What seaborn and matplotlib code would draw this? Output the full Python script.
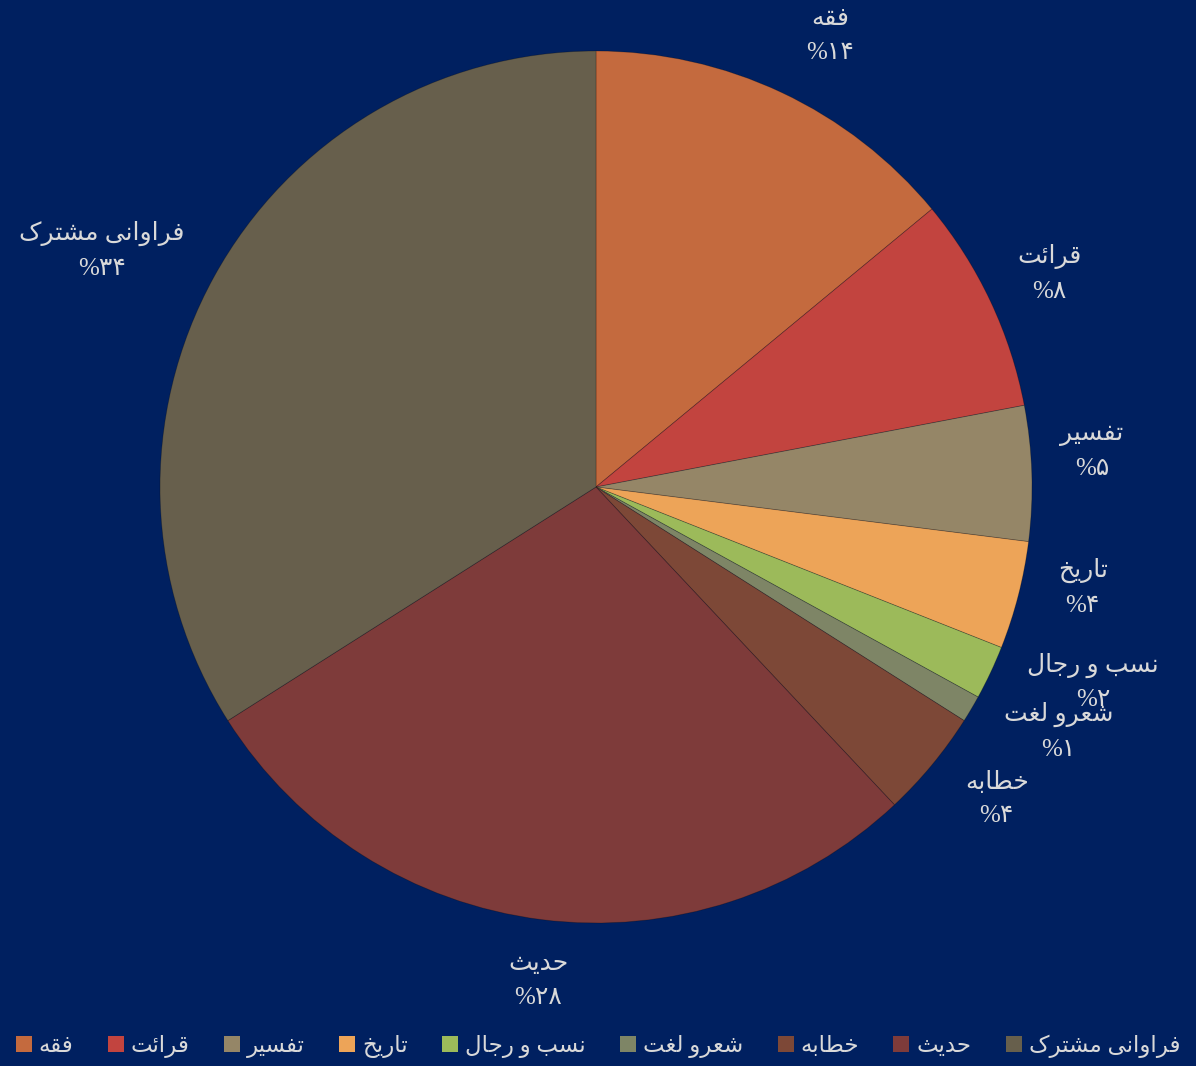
import matplotlib
matplotlib.use("Agg")
import matplotlib.pyplot as plt
import numpy as np
import seaborn as sns
from matplotlib.patches import Patch

# ── data ──
categories = ["فقه", "قرائت", "تفسیر", "تاریخ", "نسب و رجال",
              "شعرو لغت", "خطابه", "حدیث", "فراوانی مشترک"]
percents = [14, 8, 5, 4, 2, 1, 4, 28, 34]
colors = ["#C46A3E", "#C2443F", "#958667", "#EDA458", "#9CBA5A",
          "#7E8566", "#7D4837", "#7E3B3A", "#675F4C"]

BG = "#002060"
TXT = "#D9D9D9"

# ── minimal Arabic/Persian shaping (matplotlib has no bidi/shaping) ──
FORMS = {  # isolated, final, initial, medial
    "ا": (0xFE8D, 0xFE8E, None, None), "ب": (0xFE8F, 0xFE90, 0xFE91, 0xFE92),
    "ت": (0xFE95, 0xFE96, 0xFE97, 0xFE98), "ث": (0xFE99, 0xFE9A, 0xFE9B, 0xFE9C),
    "ج": (0xFE9D, 0xFE9E, 0xFE9F, 0xFEA0), "ح": (0xFEA1, 0xFEA2, 0xFEA3, 0xFEA4),
    "خ": (0xFEA5, 0xFEA6, 0xFEA7, 0xFEA8), "د": (0xFEA9, 0xFEAA, None, None),
    "ر": (0xFEAD, 0xFEAE, None, None), "س": (0xFEB1, 0xFEB2, 0xFEB3, 0xFEB4),
    "ش": (0xFEB5, 0xFEB6, 0xFEB7, 0xFEB8), "ط": (0xFEC1, 0xFEC2, 0xFEC3, 0xFEC4),
    "ع": (0xFEC9, 0xFECA, 0xFECB, 0xFECC), "غ": (0xFECD, 0xFECE, 0xFECF, 0xFED0),
    "ف": (0xFED1, 0xFED2, 0xFED3, 0xFED4), "ق": (0xFED5, 0xFED6, 0xFED7, 0xFED8),
    "ل": (0xFEDD, 0xFEDE, 0xFEDF, 0xFEE0), "م": (0xFEE1, 0xFEE2, 0xFEE3, 0xFEE4),
    "ن": (0xFEE5, 0xFEE6, 0xFEE7, 0xFEE8), "ه": (0xFEE9, 0xFEEA, 0xFEEB, 0xFEEC),
    "و": (0xFEED, 0xFEEE, None, None), "ئ": (0xFE89, 0xFE8A, 0xFE8B, 0xFE8C),
    "ی": (0xFBFC, 0xFBFD, 0xFBFE, 0xFBFF), "ک": (0xFB8E, 0xFB8F, 0xFB90, 0xFB91),
}


def shape(text):
    out = []
    for i, ch in enumerate(text):
        if ch not in FORMS:
            out.append(ch)
            continue
        iso, fin, ini, med = FORMS[ch]
        prev = text[i - 1] if i > 0 else ""
        nxt = text[i + 1] if i + 1 < len(text) else ""
        join_prev = prev in FORMS and FORMS[prev][2] is not None
        join_next = nxt in FORMS and ini is not None
        if join_prev and join_next:
            code = med
        elif join_prev:
            code = fin
        elif join_next:
            code = ini
        else:
            code = iso
        out.append(chr(code))
    return "".join(reversed(out))


FA_DIGITS = str.maketrans("0123456789", "۰۱۲۳۴۵۶۷۸۹")


def pct_label(v):
    return "%" + str(v).translate(FA_DIGITS)


sns.set_theme(style="white")
plt.rcParams["font.family"] = ["Liberation Serif", "DejaVu Sans"]

fig = plt.figure(figsize=(11.96, 10.66), dpi=100, facecolor=BG)
ax = fig.add_axes([0, 0, 1, 1])
ax.set_facecolor(BG)

R_PX = 436.0
CX, CY = 596.0, 487.0
W, H = 1196.0, 1066.0

wedges, _ = ax.pie(percents, colors=colors, startangle=90, counterclock=False,
                   radius=1.0, wedgeprops=dict(linewidth=0.6, edgecolor="#00000040"))
ax.set_xlim(-CX / R_PX, (W - CX) / R_PX)
ax.set_ylim((CY - H) / R_PX, CY / R_PX)
ax.set_aspect("equal")
ax.axis("off")

# label placement: radius and clockwise angle nudges (deg) for crowded slices
lab_r = [1.165, 1.15, 1.14, 1.14, 1.225, 1.2, 1.165, 1.14, 1.257]
lab_dang = [2.2, 0, -2.2, -2.7, -3.8, -2.7, -1.7, -0.5, -3.2]

for w, name, v, r, da in zip(wedges, categories, percents, lab_r, lab_dang):
    mid = np.deg2rad((w.theta1 + w.theta2) / 2 - da)
    x, y = r * np.cos(mid), r * np.sin(mid)
    ax.text(x, y, shape(name) + "\n" + pct_label(v), ha="center", va="center",
            color=TXT, fontsize=18, linespacing=1.7)

handles = [Patch(facecolor=c, edgecolor="none") for c in colors]
fig.legend(handles, [shape(c) for c in categories], loc="lower center",
           bbox_to_anchor=(0.5, -0.012), ncol=len(categories), frameon=False,
           fontsize=16.5, labelcolor=TXT, handlelength=0.7, handleheight=0.7,
           handletextpad=0.3, columnspacing=1.5)

fig.savefig("out.png", dpi=100, facecolor=BG)
